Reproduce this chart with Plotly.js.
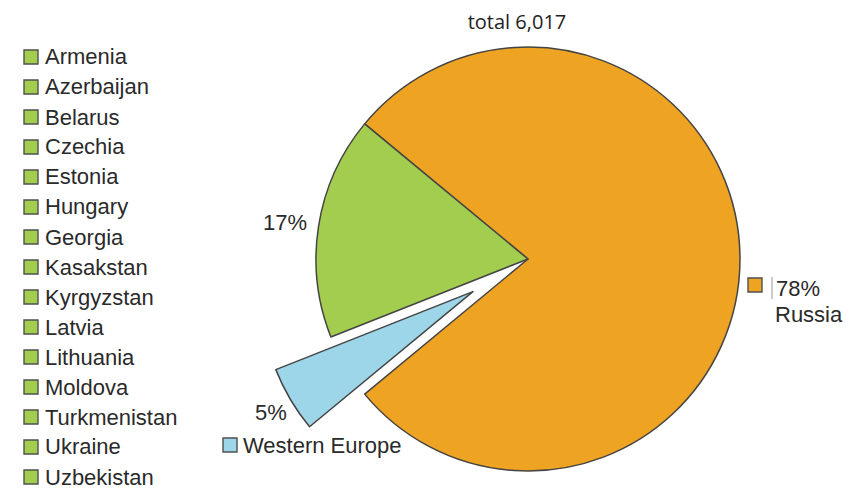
<!DOCTYPE html>
<html><head><meta charset="utf-8">
<script src="https://cdn.plot.ly/plotly-3.0.1.min.js"></script>
<style>html,body{margin:0;padding:0;overflow:hidden;background:#fff}</style>
</head><body>
<div id="chart" style="width:859px;height:540px"></div>
<script>
// ---- data ----
const sliceLabels = ['Russia', 'Western Europe', 'Other countries'];
const sliceShares = [78, 5, 17];
const sliceColors = ['#EEA322', '#9DD6E8', '#A2CD4F'];
const otherCountries = ['Armenia', 'Azerbaijan', 'Belarus', 'Czechia', 'Estonia', 'Hungary', 'Georgia',
  'Kasakstan', 'Kyrgyzstan', 'Latvia', 'Lithuania', 'Moldova', 'Turkmenistan', 'Ukraine', 'Uzbekistan'];
const totalCount = '6,017';

// ---- geometry (pixels) ----
const W = 859, H = 540;
const CX = 528, CY = 259, R = 212;
const PULL_PX = 64;
const ROT = -50.4;
const EDGE = '#444444';
const TXT = '#2a2a2a';
const FONT = '"Liberation Sans", Arial, sans-serif';

const px = x => x / W;
const py = y => 1 - y / H;
function dom(cx, cy) {
  return { x: [(cx - R) / W, (cx + R) / W], y: [(H - cy - R) / H, (H - cy + R) / H] };
}

const sum = sliceShares.reduce((a, b) => a + b, 0);
const weStart = ROT + 360 * sliceShares[0] / sum;
const weMid = (weStart + 180 * sliceShares[1] / sum) * Math.PI / 180;
const CX2 = CX + PULL_PX * Math.sin(weMid);
const CY2 = CY - PULL_PX * Math.cos(weMid);

const mainPie = {
  type: 'pie', sort: false, direction: 'clockwise', rotation: ROT,
  labels: sliceLabels, values: sliceShares,
  marker: { colors: [sliceColors[0], 'rgba(0,0,0,0)', sliceColors[2]],
            line: { color: EDGE, width: [1.5, 0, 1.5] } },
  textinfo: 'none', hoverinfo: 'label+percent', showlegend: false,
  domain: dom(CX, CY)
};
const pulledPie = {
  type: 'pie', sort: false, direction: 'clockwise', rotation: weStart,
  labels: [sliceLabels[1], 'rest'], values: [sliceShares[1], sum - sliceShares[1]],
  marker: { colors: [sliceColors[1], 'rgba(0,0,0,0)'],
            line: { color: EDGE, width: [1.5, 0] } },
  textinfo: 'none', hoverinfo: 'skip', showlegend: false,
  domain: dom(CX2, CY2)
};

const annotations = [];
const shapes = [];
function sq(x, y, color) {
  shapes.push({ type: 'rect', xref: 'paper', yref: 'paper',
    x0: px(x - 7), x1: px(x + 7), y0: py(y + 7), y1: py(y - 7),
    fillcolor: color, line: { color: '#505050', width: 1.4 } });
}
function txt(text, x, y, anchor, size) {
  annotations.push({ text: text, xref: 'paper', yref: 'paper', x: px(x), y: py(y),
    xanchor: anchor, yanchor: 'middle', showarrow: false,
    font: { family: FONT, size: size || 22, color: TXT } });
}
otherCountries.forEach((c, i) => {
  const y = 57 + 30 * i;
  sq(31, y, sliceColors[2]);
  txt(c, 43, y, 'left');
});
sq(230, 445, sliceColors[1]);
txt(sliceLabels[1], 241, 445, 'left');
txt(sliceShares[1] + '%', 271, 412, 'center');
txt(sliceShares[2] + '%', 285, 222, 'center');
sq(755, 285, sliceColors[0]);
shapes.push({ type: 'line', xref: 'paper', yref: 'paper', x0: px(772), x1: px(772), y0: py(277), y1: py(299),
  line: { color: '#999', width: 1 } });
txt(sliceShares[0] + '%', 774, 288, 'left');
txt(sliceLabels[0], 773, 314, 'left');

const layout = {
  width: W, height: H,
  margin: { l: 0, r: 0, t: 0, b: 0 },
  paper_bgcolor: '#fff',
  title: { text: 'total ' + totalCount, x: px(517), y: py(22), xanchor: 'center', yanchor: 'middle',
           font: { family: '"Open Sans", sans-serif', size: 20, color: '#222' } },
  annotations: annotations,
  shapes: shapes
};
Plotly.newPlot('chart', [mainPie, pulledPie], layout, { displayModeBar: false, staticPlot: true });
</script>
</body></html>
